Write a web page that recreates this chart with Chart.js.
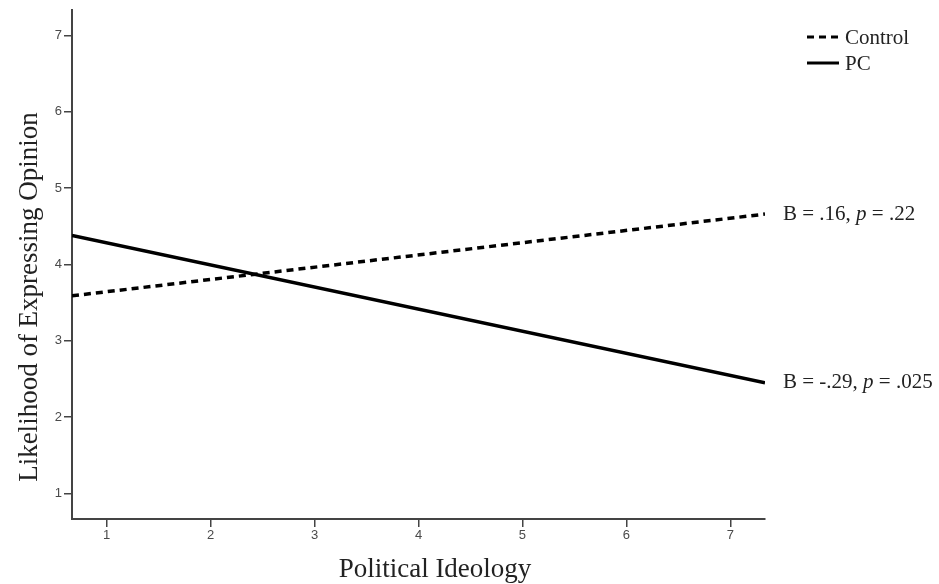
<!DOCTYPE html>
<html>
<head>
<meta charset="utf-8">
<script src="https://cdn.jsdelivr.net/npm/chart.js@4.4.0/dist/chart.umd.min.js"></script>
<style>
  html, body { margin: 0; padding: 0; background: #ffffff; }
  #wrap { width: 939px; height: 584px; position: relative; }
</style>
</head>
<body>
<div id="wrap"><canvas id="c" width="939" height="584"></canvas></div>
<script>
// ---- data ----
const xRange = [0.667, 7.333];            // ideology values at the ends of each line
const controlValues = [3.59, 4.66];       // Control condition
const pcValues = [4.38, 2.45];            // PC condition
const xTicks = [1, 2, 3, 4, 5, 6, 7];
const yTicks = [1, 2, 3, 4, 5, 6, 7];
const seriesNames = ['Control', 'PC'];
const statControl = ['B = .16, ', 'p', ' = .22'];
const statPC = ['B = -.29, ', 'p', ' = .025'];
const xTitle = 'Political Ideology';
const yTitle = 'Likelihood of Expressing Opinion';

const SERIF = '"Liberation Serif", "Times New Roman", serif';
const SANS = '"Liberation Sans", Arial, sans-serif';

function toPoints(xs, ys) { return xs.map((x, i) => ({ x: x, y: ys[i] })); }

function drawStat(ctx, parts, x, y) {
  ctx.save();
  ctx.textBaseline = 'middle';
  ctx.textAlign = 'left';
  ctx.fillStyle = '#222';
  let cx = x;
  parts.forEach((p, i) => {
    ctx.font = (i === 1 ? 'italic ' : '') + '21px ' + SERIF;
    ctx.fillText(p, cx, y);
    cx += ctx.measureText(p).width;
  });
  ctx.restore();
}

const extras = {
  id: 'extras',
  afterDraw(chart) {
    const ctx = chart.ctx;
    const xs = chart.scales.x, ys = chart.scales.y;
    // statistics next to the line ends
    const xEnd = xs.getPixelForValue(xRange[1]);
    drawStat(ctx, statControl, xEnd + 18, ys.getPixelForValue(controlValues[1]));
    drawStat(ctx, statPC, xEnd + 18, ys.getPixelForValue(pcValues[1]));

    // legend
    ctx.save();
    ctx.strokeStyle = '#000';
    ctx.lineWidth = 3;
    ctx.setLineDash([7, 5]);
    ctx.beginPath(); ctx.moveTo(807, 37); ctx.lineTo(839, 37); ctx.stroke();
    ctx.setLineDash([]);
    ctx.beginPath(); ctx.moveTo(807, 63); ctx.lineTo(839, 63); ctx.stroke();
    ctx.fillStyle = '#222';
    ctx.font = '21px ' + SERIF;
    ctx.textBaseline = 'middle';
    ctx.textAlign = 'left';
    ctx.fillText(seriesNames[0], 845, 38);
    ctx.fillText(seriesNames[1], 845, 64);

    // axis titles
    ctx.font = '27px ' + SERIF;
    ctx.textAlign = 'center';
    ctx.textBaseline = 'alphabetic';
    ctx.fillText(xTitle, 435, 577);
    ctx.translate(37, 297);
    ctx.rotate(-Math.PI / 2);
    ctx.fillText(yTitle, 0, 0);
    ctx.restore();
  }
};

new Chart(document.getElementById('c'), {
  type: 'line',
  data: {
    datasets: [
      {
        label: seriesNames[0],
        data: toPoints(xRange, controlValues),
        borderColor: '#000',
        borderWidth: 3.5,
        borderDash: [7, 5],
        borderCapStyle: 'butt',
        pointRadius: 0,
        tension: 0,
        fill: false
      },
      {
        label: seriesNames[1],
        data: toPoints(xRange, pcValues),
        borderColor: '#000',
        borderWidth: 3.5,
        borderCapStyle: 'butt',
        pointRadius: 0,
        tension: 0,
        fill: false
      }
    ]
  },
  options: {
    responsive: false,
    animation: false,
    devicePixelRatio: 1,
    layout: { padding: { left: 0, top: 10, right: 174, bottom: 0 } },
    plugins: { legend: { display: false }, tooltip: { enabled: false }, title: { display: false } },
    scales: {
      x: {
        type: 'linear',
        min: xRange[0],
        max: xRange[1],
        afterBuildTicks: s => { s.ticks = xTicks.map(v => ({ value: v })); },
        afterFit: s => { s.height = 65; },
        grid: { display: true, drawOnChartArea: false, drawTicks: true, tickLength: 8, color: '#444', lineWidth: 1.5 },
        border: { display: true, color: '#444', width: 2 },
        ticks: { color: '#4a4a4a', font: { family: SANS, size: 13 }, padding: 1, maxRotation: 0, autoSkip: false }
      },
      y: {
        type: 'linear',
        min: 0.667,
        max: 7.333,
        afterBuildTicks: s => { s.ticks = yTicks.map(v => ({ value: v })); },
        afterFit: s => { s.width = 72; },
        grid: { display: true, drawOnChartArea: false, drawTicks: true, tickLength: 8, color: '#444', lineWidth: 1.5 },
        border: { display: true, color: '#444', width: 2 },
        ticks: { color: '#4a4a4a', font: { family: SANS, size: 13 }, padding: 2, autoSkip: false }
      }
    }
  },
  plugins: [extras]
});
</script>
</body>
</html>
